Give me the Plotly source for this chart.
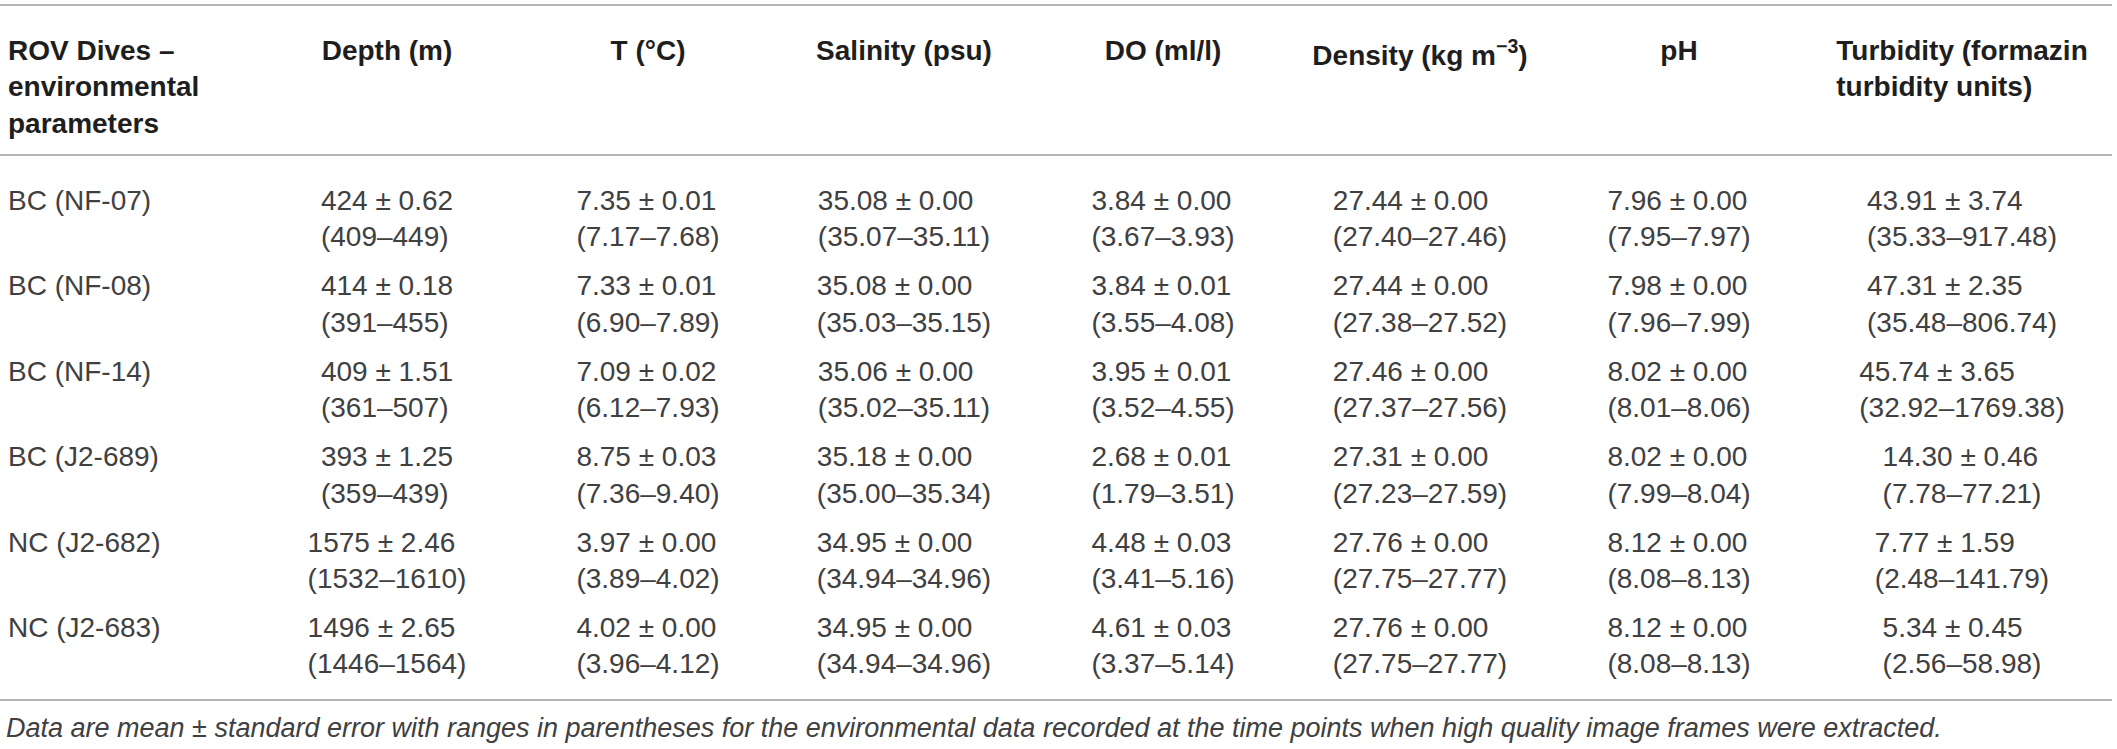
import plotly.graph_objects as go

# ROV dives and the environmental parameters (mean, standard error, min, max)
dives = ["BC (NF-07)", "BC (NF-08)", "BC (NF-14)", "BC (J2-689)", "NC (J2-682)", "NC (J2-683)"]

depth_mean = [424, 414, 409, 393, 1575, 1496]
depth_se = [0.62, 0.18, 1.51, 1.25, 2.46, 2.65]
depth_min = [409, 391, 361, 359, 1532, 1446]
depth_max = [449, 455, 507, 439, 1610, 1564]

temp_mean = [7.35, 7.33, 7.09, 8.75, 3.97, 4.02]
temp_se = [0.01, 0.01, 0.02, 0.03, 0.00, 0.00]
temp_min = [7.17, 6.90, 6.12, 7.36, 3.89, 3.96]
temp_max = [7.68, 7.89, 7.93, 9.40, 4.02, 4.12]

sal_mean = [35.08, 35.08, 35.06, 35.18, 34.95, 34.95]
sal_se = [0.00, 0.00, 0.00, 0.00, 0.00, 0.00]
sal_min = [35.07, 35.03, 35.02, 35.00, 34.94, 34.94]
sal_max = [35.11, 35.15, 35.11, 35.34, 34.96, 34.96]

do_mean = [3.84, 3.84, 3.95, 2.68, 4.48, 4.61]
do_se = [0.00, 0.01, 0.01, 0.01, 0.03, 0.03]
do_min = [3.67, 3.55, 3.52, 1.79, 3.41, 3.37]
do_max = [3.93, 4.08, 4.55, 3.51, 5.16, 5.14]

dens_mean = [27.44, 27.44, 27.46, 27.31, 27.76, 27.76]
dens_se = [0.00, 0.00, 0.00, 0.00, 0.00, 0.00]
dens_min = [27.40, 27.38, 27.37, 27.23, 27.75, 27.75]
dens_max = [27.46, 27.52, 27.56, 27.59, 27.77, 27.77]

ph_mean = [7.96, 7.98, 8.02, 8.02, 8.12, 8.12]
ph_se = [0.00, 0.00, 0.00, 0.00, 0.00, 0.00]
ph_min = [7.95, 7.96, 8.01, 7.99, 8.08, 8.08]
ph_max = [7.97, 7.99, 8.06, 8.04, 8.13, 8.13]

turb_mean = [43.91, 47.31, 45.74, 14.30, 7.77, 5.34]
turb_se = [3.74, 2.35, 3.65, 0.46, 1.59, 0.45]
turb_min = [35.33, 35.48, 32.92, 7.78, 2.48, 2.56]
turb_max = [917.48, 806.74, 1769.38, 77.21, 141.79, 58.98]

headers = [
    "ROV Dives –<br>environmental<br>parameters",
    "Depth (m)",
    "T (°C)",
    "Salinity (psu)",
    "DO (ml/l)",
    "Density (kg m<sup>−3</sup>)",
    "pH",
    "Turbidity (formazin<br>turbidity units)",
]

caption = ("Data are mean ± standard error with ranges in parentheses for the environmental "
           "data recorded at the time points when high quality image frames were extracted.")


def cell_text(mean, se, lo, hi, fmt_mean, fmt_range):
    out = []
    for m, s, a, b in zip(mean, se, lo, hi):
        out.append(f"{m:{fmt_mean}} ± {s:.2f}<br>({a:{fmt_range}}–{b:{fmt_range}})")
    return out


columns = [
    # trailing break so the names sit on the same line as the two-line cells
    [f"{d}<br> " for d in dives],
    cell_text(depth_mean, depth_se, depth_min, depth_max, "d", "d"),
    cell_text(temp_mean, temp_se, temp_min, temp_max, ".2f", ".2f"),
    cell_text(sal_mean, sal_se, sal_min, sal_max, ".2f", ".2f"),
    cell_text(do_mean, do_se, do_min, do_max, ".2f", ".2f"),
    cell_text(dens_mean, dens_se, dens_min, dens_max, ".2f", ".2f"),
    cell_text(ph_mean, ph_se, ph_min, ph_max, ".2f", ".2f"),
    cell_text(turb_mean, turb_se, turb_min, turb_max, ".2f", ".2f"),
]

W, H = 2117, 749
FONT = "Liberation Sans, Arial, Helvetica, sans-serif"
RULE = "#9b9b9b"


def py(px):
    # pixel row -> paper coordinate
    return 1 - px / H


fig = go.Figure(go.Table(
    domain=dict(x=[0, 2111 / W], y=[0, py(27)]),
    columnwidth=[255, 264, 258, 254, 264, 250, 268, 298],
    header=dict(
        values=[f"<b>{h}</b>" for h in headers],
        align=["left"] + ["center"] * 7,
        height=150,
        fill_color="rgba(0,0,0,0)",
        line_color="rgba(0,0,0,0)",
        font=dict(family=FONT, size=28, color="#1e1e1e"),
    ),
    cells=dict(
        values=columns,
        align=["left"] + ["center"] * 7,
        height=85.4,
        fill_color="rgba(0,0,0,0)",
        line_color="rgba(0,0,0,0)",
        font=dict(family=FONT, size=28, color="#404040"),
    ),
))

# horizontal rules of the table
for y in [5, 155, 700]:
    fig.add_shape(type="line", xref="paper", yref="paper", x0=0, x1=2112 / W,
                  y0=py(y), y1=py(y), line=dict(color=RULE, width=1.5))

fig.add_annotation(
    text=f"<i>{caption}</i>", xref="paper", yref="paper",
    x=4 / W, y=py(728), xanchor="left", yanchor="middle", showarrow=False,
    font=dict(family=FONT, size=27, color="#404040"),
)

fig.update_layout(
    width=W, height=H,
    margin=dict(l=0, r=0, t=0, b=0),
    paper_bgcolor="white",
    plot_bgcolor="white",
)

fig.write_html("out.html", config={"displayModeBar": False},
               post_script="document.body.style.margin='0px';")
